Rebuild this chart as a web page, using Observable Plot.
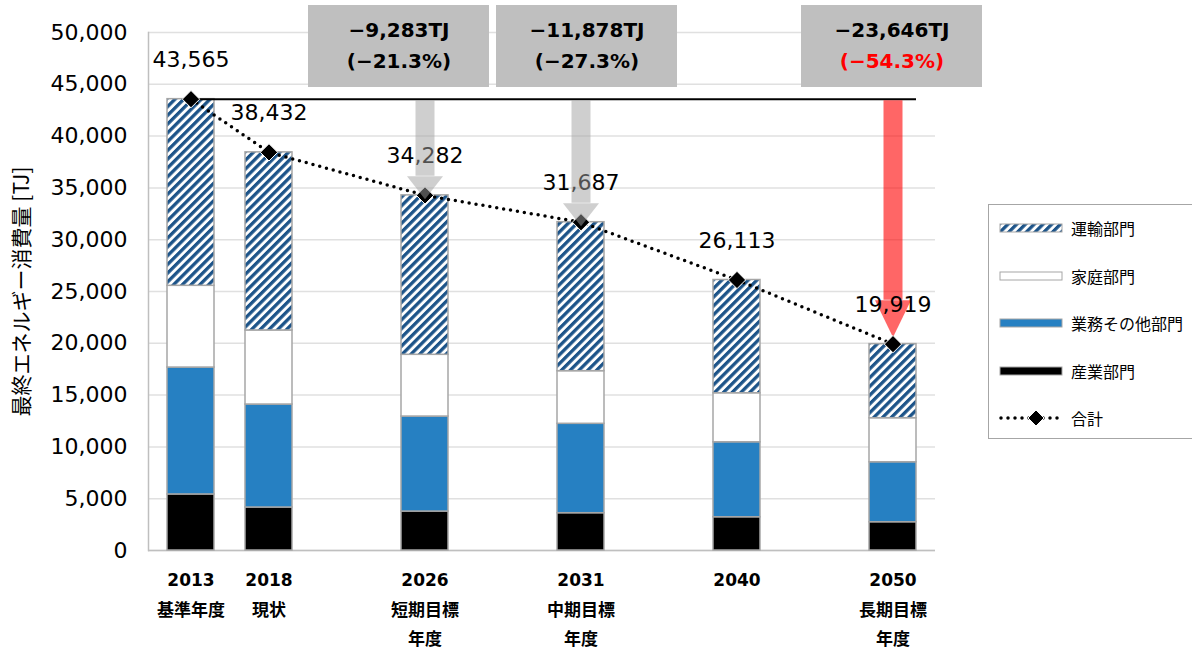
<!DOCTYPE html>
<html><head><meta charset="utf-8">
<script src="https://cdn.jsdelivr.net/npm/d3@7"></script>
<script src="https://cdn.jsdelivr.net/npm/@observablehq/plot@0.6"></script>
<style>
html,body{margin:0;padding:0;background:#fff;}
#wrap{position:relative;width:1192px;height:650px;overflow:hidden;font-family:"DejaVu Sans","Noto Sans CJK JP",sans-serif;}
#legend{position:absolute;left:988px;top:204px;width:240px;height:235px;border:1.5px solid #a6a6a6;box-sizing:border-box;background:#fff;}
.item{position:absolute;left:10px;height:20px;display:flex;align-items:center;font-family:"Noto Sans CJK JP",sans-serif;font-size:16px;color:#000;white-space:nowrap;}
.item svg{margin-right:8px;}
</style></head><body>
<div id="wrap">
<svg width="0" height="0" style="position:absolute"><defs>
<pattern id="hatch" patternUnits="userSpaceOnUse" width="6.2" height="6.2" patternTransform="rotate(45)">
<rect width="6.2" height="6.2" fill="#ffffff"/><rect width="3.3" height="6.2" fill="#1d5489"/></pattern>
</defs></svg>
<div id="chart"></div><div id="legend"></div></div>
<script>
// ---- data ----
const years = ["2013","2018","2026","2031","2040","2050"];
const yearNotes = ["基準年度","現状","短期目標\n年度","中期目標\n年度","","長期目標\n年度"];
const sectors = ["産業部門","業務その他部門","家庭部門","運輸部門"];
const industry   = [5410, 4150, 3760, 3600, 3210, 2730];
const commercial = [12250, 9940, 9170, 8630, 7240, 5790];
const household  = [7890, 7150, 5960, 5080, 4730, 4250];
const transport  = [18015, 17190, 15390, 14380, 10930, 7150];
const totals = [43565, 38432, 34282, 31687, 26113, 19919];
const totalLabel = "合計";
const targetYears = ["2026","2031","2050"];
const reductionTJ = ["−9,283TJ","−11,878TJ","−23,646TJ"];
const reductionPct = ["(−21.3%)","(−27.3%)","(−54.3%)"];
const yTicks = [0,5000,10000,15000,20000,25000,30000,35000,40000,45000,50000];
const yTitle = "最終エネルギー消費量 [TJ]";

// ---- styling / layout ----
const sectorColors = ["#000000","#2680c2","#ffffff","url(#hatch)"];
const slots = [years[0], years[1], "·1", years[2], "·2", years[3], "·3", years[4], "·4", years[5]];
const boxShift = [-26, 6, -1];
const FONT = "'DejaVu Sans','Noto Sans CJK JP',sans-serif";

const seriesVals = [industry, commercial, household, transport];
const rows = years.flatMap((yr, i) => sectors.map((s, j) => ({year: yr, sector: s, value: seriesVals[j][i]})));
const totData = years.map((yr, i) => ({year: yr, total: totals[i]}));
const tgtData = targetYears.map(yr => totData.find(d => d.year === yr));
const noteOf = Object.fromEntries(years.map((y, i) => [y, yearNotes[i]]));
const baseTotal = totals[0];

function head(w, h) {
  return {draw(ctx) { ctx.moveTo(-w/2, -h); ctx.lineTo(w/2, -h); ctx.lineTo(0, 0); ctx.closePath(); }};
}

const annMarks = targetYears.flatMap((yr, i) => {
  const d = [{year: yr}];
  return [
    Plot.cell(d, {x: "year", fill: "#bfbfbf", insetTop: -27, insetBottom: 463, insetLeft: -67, insetRight: -67, dx: boxShift[i]}),
    Plot.text(d, {x: "year", text: () => reductionTJ[i], frameAnchor: "top", dy: -2, dx: boxShift[i], fontWeight: "bold", fontSize: 20, lineAnchor: "middle", fill: "#000", fontFamily: FONT}),
    Plot.text(d, {x: "year", text: () => reductionPct[i], frameAnchor: "top", dy: 29, dx: boxShift[i], fontWeight: "bold", fontSize: 20, lineAnchor: "middle", fill: i === 2 ? "#ff0000" : "#000", fontFamily: FONT})
  ];
});

const grayT = tgtData.slice(0, 2), redT = tgtData.slice(2);

const chart = Plot.plot({
  width: 1192, height: 650,
  marginLeft: 148, marginRight: 257, marginTop: 32, marginBottom: 100,
  style: {fontFamily: FONT, background: "transparent", overflow: "visible"},
  x: {type: "band", domain: slots, paddingInner: 0.4, paddingOuter: 0.2, axis: null},
  y: {domain: [0, 50000], axis: null},
  color: {domain: sectors, range: sectorColors},
  marks: [
    Plot.gridY(yTicks, {stroke: "#e0e0e0", strokeOpacity: 1, strokeWidth: 1.5}),
    Plot.frame({anchor: "left", stroke: "#bfbfbf", strokeWidth: 1.5}),
    Plot.ruleY([0], {stroke: "#bfbfbf", strokeWidth: 1.5}),
    Plot.axisY({ticks: yTicks, tickSize: 0, tickPadding: 21, fontSize: 22, tickFormat: d3.format(","), label: null, fill: "#000"}),
    Plot.axisX({ticks: years, tickSize: 0, tickPadding: 15, fontSize: 17, fontWeight: "bold", lineHeight: 1.72, label: null, fill: "#000",
      tickFormat: d => noteOf[d] ? d + "\n" + noteOf[d] : d}),
    Plot.text([yTitle], {frameAnchor: "left", rotate: -90, dx: -126, textAnchor: "middle", lineAnchor: "middle", fontSize: 21, fill: "#000", fontFamily: "'Noto Sans CJK JP',sans-serif"}),
    Plot.barY(rows, {x: "year", y: "value", fill: "sector", stroke: "#a6a6a6", strokeWidth: 1.5}),
    ...annMarks,
    Plot.ruleY(totData.slice(0, 1), {y: "total", x1: () => years[0], x2: () => years[years.length - 1], stroke: "#000", strokeWidth: 2, insetLeft: 24}),
    Plot.line(totData, {x: "year", y: "total", stroke: "#000", strokeWidth: 3.5, strokeDasharray: "0 7", strokeLinecap: "round"}),
    Plot.ruleX(redT, {x: "year", y1: () => baseTotal, y2: "total", stroke: "#ff0000", strokeOpacity: 0.6, strokeWidth: 19, insetTop: 1.5, insetBottom: 44}),
    Plot.dot(redT, {x: "year", y: "total", symbol: head(36, 37), r: 5, fill: "#ff0000", fillOpacity: 0.6, stroke: "none", dy: -7}),
    Plot.dot(totData, {x: "year", y: "total", symbol: "diamond2", r: 7.8, fill: "#000", stroke: "#fff", strokeWidth: 1}),
    Plot.text(totData, {x: "year", y: "total", text: d => d3.format(",")(d.total), dy: -39, fontSize: 22, fill: "#000", lineAnchor: "middle"}),
    Plot.ruleX(grayT, {x: "year", y1: () => baseTotal, y2: "total", stroke: "#a0a0a0", strokeOpacity: 0.5, strokeWidth: 19, insetTop: 1.5, insetBottom: 19}),
    Plot.dot(grayT, {x: "year", y: "total", symbol: head(36, 23), r: 5, fill: "#a0a0a0", fillOpacity: 0.5, stroke: "none", dy: 4})
  ]
});
document.getElementById("chart").appendChild(chart);

// ---- legend ----
const legend = document.getElementById("legend");
const legendOrder = [3, 2, 1, 0];
const rowTop = [13, 61, 108, 156, 203];
legendOrder.forEach((j, k) => {
  const div = document.createElement("div");
  div.className = "item";
  div.style.top = rowTop[k] + "px";
  div.innerHTML = `<svg width="64" height="12"><rect x="1" y="2" width="62" height="8" fill="${sectorColors[j]}" stroke="#a6a6a6" stroke-width="1"/></svg><span>${sectors[j]}</span>`;
  legend.appendChild(div);
});
const tdiv = document.createElement("div");
tdiv.className = "item";
tdiv.style.top = rowTop[4] + "px";
tdiv.innerHTML = `<svg width="64" height="20"><line x1="2" y1="10" x2="62" y2="10" stroke="#000" stroke-width="3.5" stroke-dasharray="0 7" stroke-linecap="round"/><path d="M37,2 L45,10 L37,18 L29,10 Z" fill="#000" stroke="#fff" stroke-width="1"/></svg><span>${totalLabel}</span>`;
legend.appendChild(tdiv);
</script>
</body></html>
